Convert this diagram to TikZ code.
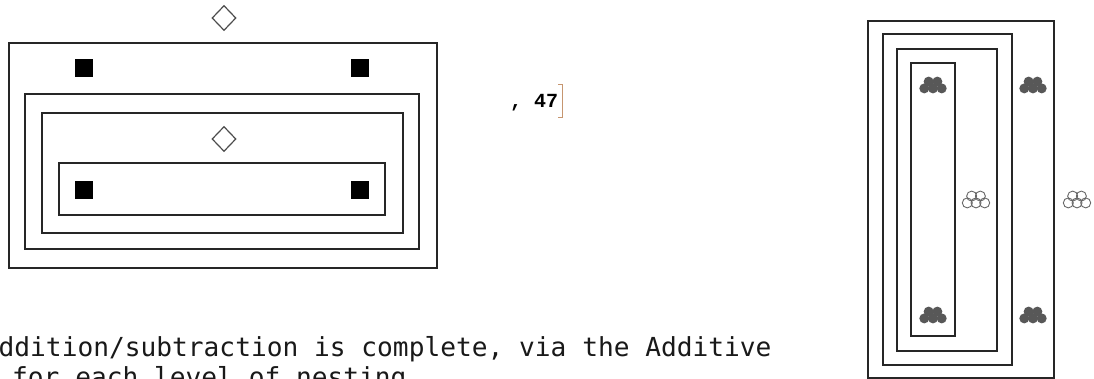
\documentclass[tikz,border=0pt]{standalone}
\usepackage{fontspec}
\setmonofont{DejaVu Sans Mono}
\newfontfamily\cellfont{Liberation Mono}
\usepackage{tikz}
\usetikzlibrary{shapes.geometric}
\definecolor{bracketbrown}{RGB}{198,150,112}
\definecolor{dotgray}{RGB}{88,88,88}

\begin{document}
\begin{tikzpicture}[
    x=1pt, y=-1pt,
    frame/.style={rectangle, draw=black!85, line width=1.1pt, inner sep=0pt},
    gem/.style={diamond, draw=black!70, line width=1.2pt, inner sep=0pt, minimum width=24pt, minimum height=25pt},
    blot/.style={rectangle, fill=black, inner sep=0pt, minimum size=18pt},
    bunch/.pic={
        \foreach \cx in {-8.7, 0, 8.7}
            \path[pic actions] (\cx, 3.4) circle[radius=5];
        \foreach \cx in {-4.35, 4.35}
            \path[pic actions] (\cx, -3.4) circle[radius=5];
    },
    fullbunch/.style={fill=dotgray},
    openbunch/.style={draw=black!60, line width=0.9pt},
    prose/.style={anchor=base west, inner sep=0pt, text=black!90, font=\ttfamily\fontsize{26.2}{30}\selectfont},
]
    \useasboundingbox (0,0) rectangle (1094,379);

    % left: nested frames
    \node[frame, minimum width=428pt, minimum height=225pt] (lf1) at (223, 155.5) {};
    \node[frame, minimum width=394pt, minimum height=155pt] (lf2) at (222, 171.5) {};
    \node[frame, minimum width=361pt, minimum height=120pt] (lf3) at (222.5, 173) {};
    \node[frame, minimum width=326pt, minimum height=52pt]  (lf4) at (222, 189) {};

    \node[gem] (gemtop) at (224, 18) {};
    \node[gem] (gemmid) at (224, 139) {};

    \node[blot] (blotA) at (84, 68) {};
    \node[blot] (blotB) at (360, 68) {};
    \node[blot] (blotC) at (84, 190) {};
    \node[blot] (blotD) at (360, 190) {};

    % cell output
    \node[anchor=base west, inner sep=0pt, font=\cellfont\bfseries\fontsize{20}{24}\selectfont] (cellout) at (510, 108) {, 47};
    \draw[bracketbrown, line width=1pt] (558, 85) -- (562, 85) -- (562, 118) -- (558, 118);

    % running text
    \node[prose] (lineA) at (-17.3, 356) {Addition/subtraction is complete, via the Additive};
    \node[prose] (lineB) at (12, 386) {for each level of nesting};

    % right: nested frames
    \node[frame, minimum width=186pt, minimum height=357pt] (rf1) at (961, 199.5) {};
    \node[frame, minimum width=129pt, minimum height=331pt] (rf2) at (947.5, 199.5) {};
    \node[frame, minimum width=100pt, minimum height=302pt] (rf3) at (947, 200) {};
    \node[frame, minimum width=44pt, minimum height=273pt]  (rf4) at (933, 199.5) {};

    \pic[fullbunch] (bunchA) at (933, 85) {bunch};
    \pic[fullbunch] (bunchB) at (1033, 85) {bunch};
    \pic[fullbunch] (bunchC) at (933, 315) {bunch};
    \pic[fullbunch] (bunchD) at (1033, 315) {bunch};
    \pic[openbunch] (bunchE) at (976, 199.5) {bunch};
    \pic[openbunch] (bunchF) at (1077, 199.5) {bunch};
\end{tikzpicture}
\end{document}
